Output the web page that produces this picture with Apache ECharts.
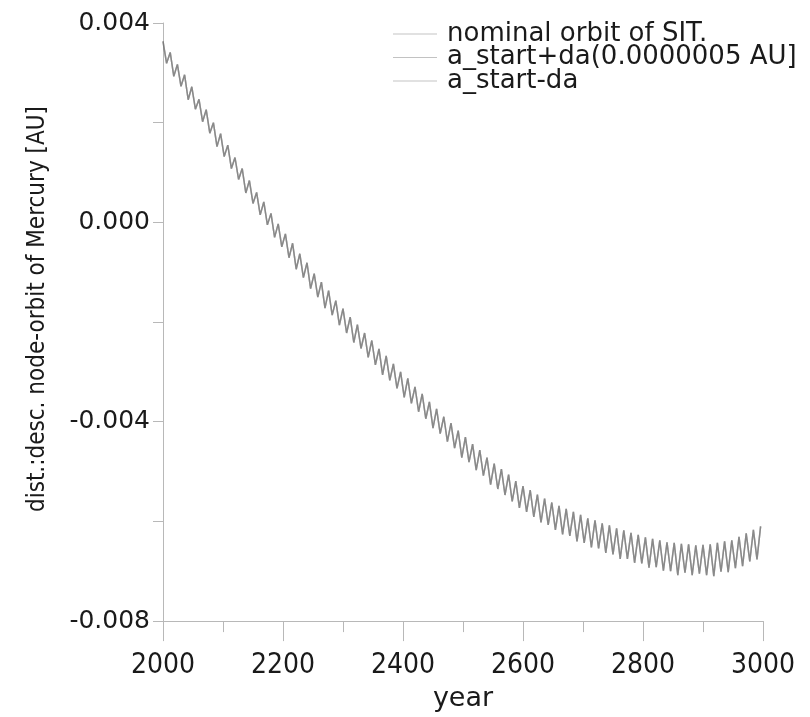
<!DOCTYPE html>
<html>
<head>
<meta charset="utf-8">
<script src="https://cdn.jsdelivr.net/npm/echarts@6/dist/echarts.min.js"></script>
<style>html,body{margin:0;padding:0;background:#fff;}#c{width:810px;height:717px;}</style>
</head>
<body>
<div id="c"></div>
<script>
const seriesNames = ['nominal orbit of SIT.', 'a_start+da(0.0000005 AU]', 'a_start-da'];
const xTicks = [2000, 2200, 2400, 2600, 2800, 3000];
const yTicks = [-0.008, -0.004, 0.000, 0.004];

const years = [
2000,2006,2012,2018,2024,2030,2036,2042,2048,2054,
2060,2066,2072,2078,2084,2090,2096,2102,2108,2114,
2120,2126,2132,2138,2144,2150,2156,2162,2168,2174,
2180,2186,2192,2198,2204,2210,2216,2222,2228,2234,
2240,2246,2252,2258,2264,2270,2276,2282,2288,2294,
2300,2306,2312,2318,2324,2330,2336,2342,2348,2354,
2360,2366,2372,2378,2384,2390,2396,2402,2408,2414,
2420,2426,2432,2438,2444,2450,2456,2462,2468,2474,
2480,2486,2492,2498,2504,2510,2516,2522,2528,2534,
2540,2546,2552,2558,2564,2570,2576,2582,2588,2594,
2600,2606,2612,2618,2624,2630,2636,2642,2648,2654,
2660,2666,2672,2678,2684,2690,2696,2702,2708,2714,
2720,2726,2732,2738,2744,2750,2756,2762,2768,2774,
2780,2786,2792,2798,2804,2810,2816,2822,2828,2834,
2840,2846,2852,2858,2864,2870,2876,2882,2888,2894,
2900,2906,2912,2918,2924,2930,2936,2942,2948,2954,
2960,2966,2972,2978,2984,2990,2996];

const nominal = [
0.00363,0.00319,0.00341,0.00293,0.00317,0.00273,0.00296,0.00246,0.00272,0.00227,
0.00247,0.00202,0.00226,0.00179,0.00200,0.00152,0.00178,0.00132,0.00155,0.00108,
0.00130,0.00086,0.00108,0.00059,0.00084,0.00038,0.00060,0.00015,0.00041,-0.00005,
0.00018,-0.00030,-0.00003,-0.00049,-0.00023,-0.00071,-0.00042,-0.00094,-0.00063,-0.00111,
-0.00081,-0.00133,-0.00103,-0.00150,-0.00120,-0.00172,-0.00137,-0.00186,-0.00157,-0.00206,
-0.00173,-0.00222,-0.00190,-0.00241,-0.00205,-0.00253,-0.00222,-0.00271,-0.00237,-0.00286,
-0.00254,-0.00306,-0.00268,-0.00317,-0.00284,-0.00333,-0.00300,-0.00351,-0.00313,-0.00363,
-0.00330,-0.00380,-0.00344,-0.00394,-0.00360,-0.00413,-0.00374,-0.00424,-0.00390,-0.00440,
-0.00403,-0.00453,-0.00418,-0.00472,-0.00431,-0.00481,-0.00445,-0.00497,-0.00457,-0.00508,
-0.00472,-0.00526,-0.00484,-0.00535,-0.00495,-0.00547,-0.00506,-0.00560,-0.00519,-0.00573,
-0.00529,-0.00581,-0.00537,-0.00591,-0.00546,-0.00602,-0.00554,-0.00607,-0.00562,-0.00617,
-0.00569,-0.00626,-0.00575,-0.00629,-0.00581,-0.00640,-0.00587,-0.00643,-0.00594,-0.00652,
-0.00598,-0.00654,-0.00604,-0.00663,-0.00608,-0.00666,-0.00614,-0.00675,-0.00618,-0.00675,
-0.00623,-0.00683,-0.00627,-0.00684,-0.00632,-0.00693,-0.00635,-0.00692,-0.00638,-0.00699,
-0.00642,-0.00700,-0.00643,-0.00708,-0.00645,-0.00703,-0.00646,-0.00708,-0.00648,-0.00705,
-0.00647,-0.00708,-0.00646,-0.00710,-0.00643,-0.00701,-0.00640,-0.00702,-0.00638,-0.00694,
-0.00631,-0.00690,-0.00624,-0.00680,-0.00617,-0.00676,-0.00610];

// the three runs are indistinguishable at the plotted scale
const plusDa = nominal;
const minusDa = nominal;

const seriesValues = [nominal, plusDa, minusDa];

const chart = echarts.init(document.getElementById('c'), null, {renderer: 'canvas'});
const axisGrey = '#b8b8b8';
const textCol = '#1a1a1a';
const lineCol = 'rgba(110,110,110,0.42)';

chart.setOption({
  animation: false,
  backgroundColor: '#ffffff',
  legend: {
    orient: 'vertical',
    left: 388,
    top: 16,
    itemGap: -2.5,
    itemWidth: 44,
    itemHeight: 1,
    icon: 'rect',
    data: seriesNames,
    textStyle: {fontFamily: 'DejaVu Sans', fontSize: 26, color: textCol, lineHeight: 24, padding: [0, 0, 0, 5]}
  },
  grid: {left: 163, right: 47, top: 23, bottom: 92, containLabel: false},
  xAxis: {
    type: 'value',
    min: xTicks[0], max: xTicks[xTicks.length - 1], interval: 200,
    name: 'year', nameLocation: 'middle', nameGap: 49,
    nameTextStyle: {fontFamily: 'DejaVu Sans', fontSize: 27, color: textCol},
    axisLine: {show: true, onZero: false, lineStyle: {color: axisGrey, width: 1}},
    axisTick: {show: true, inside: false, length: 20, lineStyle: {color: axisGrey}},
    minorTick: {show: true, splitNumber: 2, length: 11, lineStyle: {color: axisGrey}},
    splitLine: {show: false},
    axisLabel: {fontFamily: 'DejaVu Sans Condensed, DejaVu Sans', fontSize: 28, color: textCol, margin: 31,
      formatter: v => String(v)}
  },
  yAxis: {
    type: 'value',
    min: yTicks[0], max: yTicks[yTicks.length - 1], interval: 0.004,
    name: 'dist.:desc. node-orbit of Mercury [AU]', nameLocation: 'middle', nameGap: 113,
    nameTextStyle: {fontFamily: 'DejaVu Sans Condensed, Liberation Sans Narrow, DejaVu Sans', fontSize: 24, color: textCol,
      padding: [0, 0, 0, 26]},
    axisLine: {show: true, onZero: false, lineStyle: {color: axisGrey, width: 1}},
    axisTick: {show: true, length: 10, lineStyle: {color: axisGrey}},
    minorTick: {show: true, splitNumber: 2, length: 10, lineStyle: {color: axisGrey}},
    splitLine: {show: false},
    axisLabel: {fontFamily: 'DejaVu Sans', fontSize: 25, color: textCol, margin: 13,
      formatter: v => v.toFixed(3)}
  },
  series: seriesNames.map((n, k) => ({
    name: n,
    type: 'line',
    data: years.map((y, i) => [y, seriesValues[k][i]]),
    showSymbol: false,
    symbol: 'none',
    lineStyle: {color: lineCol, width: 1.5},
    itemStyle: {color: lineCol}
  }))
});
</script>
</body>
</html>
